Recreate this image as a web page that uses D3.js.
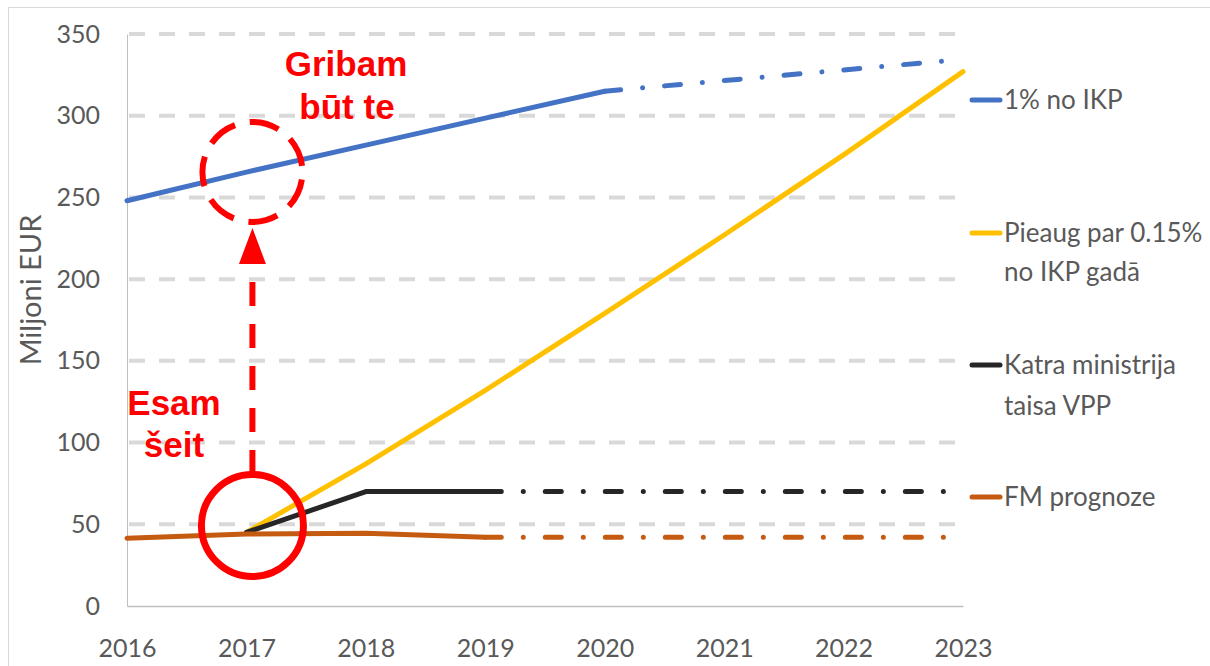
<!DOCTYPE html>
<html>
<head>
<meta charset="utf-8">
<script src="https://cdn.jsdelivr.net/npm/d3@7"></script>
<style>
  html, body { margin: 0; padding: 0; background: #fff; }
  svg { display: block; }
</style>
</head>
<body>
<svg id="chart" width="1210" height="666"></svg>
<script>
// ---- data ----
const years = [2016, 2017, 2018, 2019, 2020, 2021, 2022, 2023];
const yTicks = [0, 50, 100, 150, 200, 250, 300, 350];
const ikp1   = [248, 265.5, 282, 298.5, 315, 321.5, 328, 334.5];   // 1% no IKP
const pieaug = [null, 45, 87, 132, 179, 227, 276, 327];            // Pieaug par 0.15% no IKP gadā
const katra  = [null, 45, 70, 70, 70, 70, 70, 70];                 // Katra ministrija taisa VPP
const fm     = [41.5, 44, 44.5, 42, 42, 42, 42, 42];               // FM prognoze
const seriesNames = ["1% no IKP", "Pieaug par 0.15%\nno IKP gadā", "Katra ministrija\ntaisa VPP", "FM prognoze"];
const solidUntil = [2020, 2023, 2019, 2019]; // last year of solid part; dash-dot after

const colors = ["#4472C4", "#FFC000", "#262626", "#C55A11"];
const allSeries = [ikp1, pieaug, katra, fm];

const svg = d3.select("#chart");
const x = d3.scaleLinear().domain([2016, 2023]).range([127, 963]);
const y = d3.scaleLinear().domain([0, 350]).range([606, 34]);

// outer frame
svg.append("rect").attr("x", 8.5).attr("y", 7.5).attr("width", 1220).attr("height", 700)
  .attr("fill", "none").attr("stroke", "#d9d9d9").attr("stroke-width", 1);

// gridlines
svg.append("g").selectAll("line").data(yTicks.filter(d => d > 0)).join("line")
  .attr("x1", x(2016) + 2).attr("x2", x(2023))
  .attr("y1", d => y(d)).attr("y2", d => y(d))
  .attr("stroke", "#d9d9d9").attr("stroke-width", 4)
  .attr("stroke-dasharray", "16,14");

// axes
const font = "Lato, 'Open Sans', sans-serif";
const yAxis = svg.append("g").attr("transform", `translate(${x(2016)},0)`)
  .call(d3.axisLeft(y).tickValues(yTicks).tickSize(0).tickPadding(27));
yAxis.select(".domain").attr("stroke", "#bfbfbf").attr("stroke-width", 1);
yAxis.selectAll("text").attr("font-family", font).attr("font-size", 25).attr("fill", "#595959");

const xAxis = svg.append("g").attr("transform", `translate(0,${y(0)})`)
  .call(d3.axisBottom(x).tickValues(years).tickFormat(d3.format("d")).tickSize(0).tickPadding(33));
xAxis.select(".domain").attr("stroke", "#bfbfbf").attr("stroke-width", 1.5);
xAxis.selectAll("text").attr("font-family", font).attr("font-size", 25).attr("fill", "#595959");

// y axis title
svg.append("text").attr("transform", "translate(41,290) rotate(-90)")
  .attr("text-anchor", "middle").attr("font-family", font).attr("font-size", 29)
  .attr("fill", "#595959").text("Miljoni EUR");

// lines
const line = d3.line().defined(d => d.v != null).x(d => x(d.year)).y(d => y(d.v));
allSeries.forEach((vals, i) => {
  const pts = years.map((yr, j) => ({ year: yr, v: vals[j] }));
  const solid = pts.filter(p => p.year <= solidUntil[i] && p.v != null);
  const dashed = pts.filter(p => p.year >= solidUntil[i] && p.v != null);
  svg.append("path").attr("d", line(solid)).attr("fill", "none")
    .attr("stroke", colors[i]).attr("stroke-width", 5)
    .attr("stroke-linejoin", "round").attr("stroke-linecap", "round");
  if (dashed.length > 1) {
    svg.append("path").attr("d", line(dashed)).attr("fill", "none")
      .attr("stroke", colors[i]).attr("stroke-width", 5)
      .attr("stroke-linecap", "round")
      .attr("stroke-dasharray", "16,22,0.01,22");
  }
});

// legend
const legendY = [[100], [233, 272], [365, 406], [497]];
seriesNames.forEach((name, i) => {
  const ys = legendY[i];
  svg.append("line").attr("x1", 972).attr("x2", 1000).attr("y1", ys[0]).attr("y2", ys[0])
    .attr("stroke", colors[i]).attr("stroke-width", 5).attr("stroke-linecap", "round");
  name.split("\n").forEach((t, k) => {
    svg.append("text").attr("x", 1004).attr("y", ys[k]).attr("dy", "0.35em")
      .attr("font-family", font).attr("font-size", 26).attr("fill", "#595959").text(t);
  });
});

// annotations
const red = "#FF0000";
const cx = x(2017) + 6;
// dashed circle (target)
const rD = 50;
svg.append("circle").attr("cx", cx).attr("cy", 172).attr("r", rD)
  .attr("fill", "none").attr("stroke", red).attr("stroke-width", 6)
  .attr("stroke-dasharray", "30,15").attr("stroke-dashoffset", 37.5);
// solid circle (current)
svg.append("circle").attr("cx", cx).attr("cy", 525.5).attr("r", 51)
  .attr("fill", "none").attr("stroke", red).attr("stroke-width", 7);
// dashed arrow shaft
svg.append("line").attr("x1", cx).attr("x2", cx).attr("y1", 282).attr("y2", 472)
  .attr("stroke", red).attr("stroke-width", 6).attr("stroke-dasharray", "24,18");
// arrowhead
svg.append("path").attr("d", `M${cx},228 L${cx - 13.5},264 L${cx + 13.5},264 Z`).attr("fill", red);

const aFont = "'Liberation Sans', Arial, sans-serif";
[["Gribam", 346, 76], ["būt te", 347, 119], ["Esam", 174, 415], ["šeit", 174, 457]].forEach(([t, tx, ty]) => {
  svg.append("text").attr("x", tx).attr("y", ty).attr("text-anchor", "middle")
    .attr("font-family", aFont).attr("font-weight", "bold").attr("font-size", 35)
    .attr("fill", red).text(t);
});
</script>
</body>
</html>
